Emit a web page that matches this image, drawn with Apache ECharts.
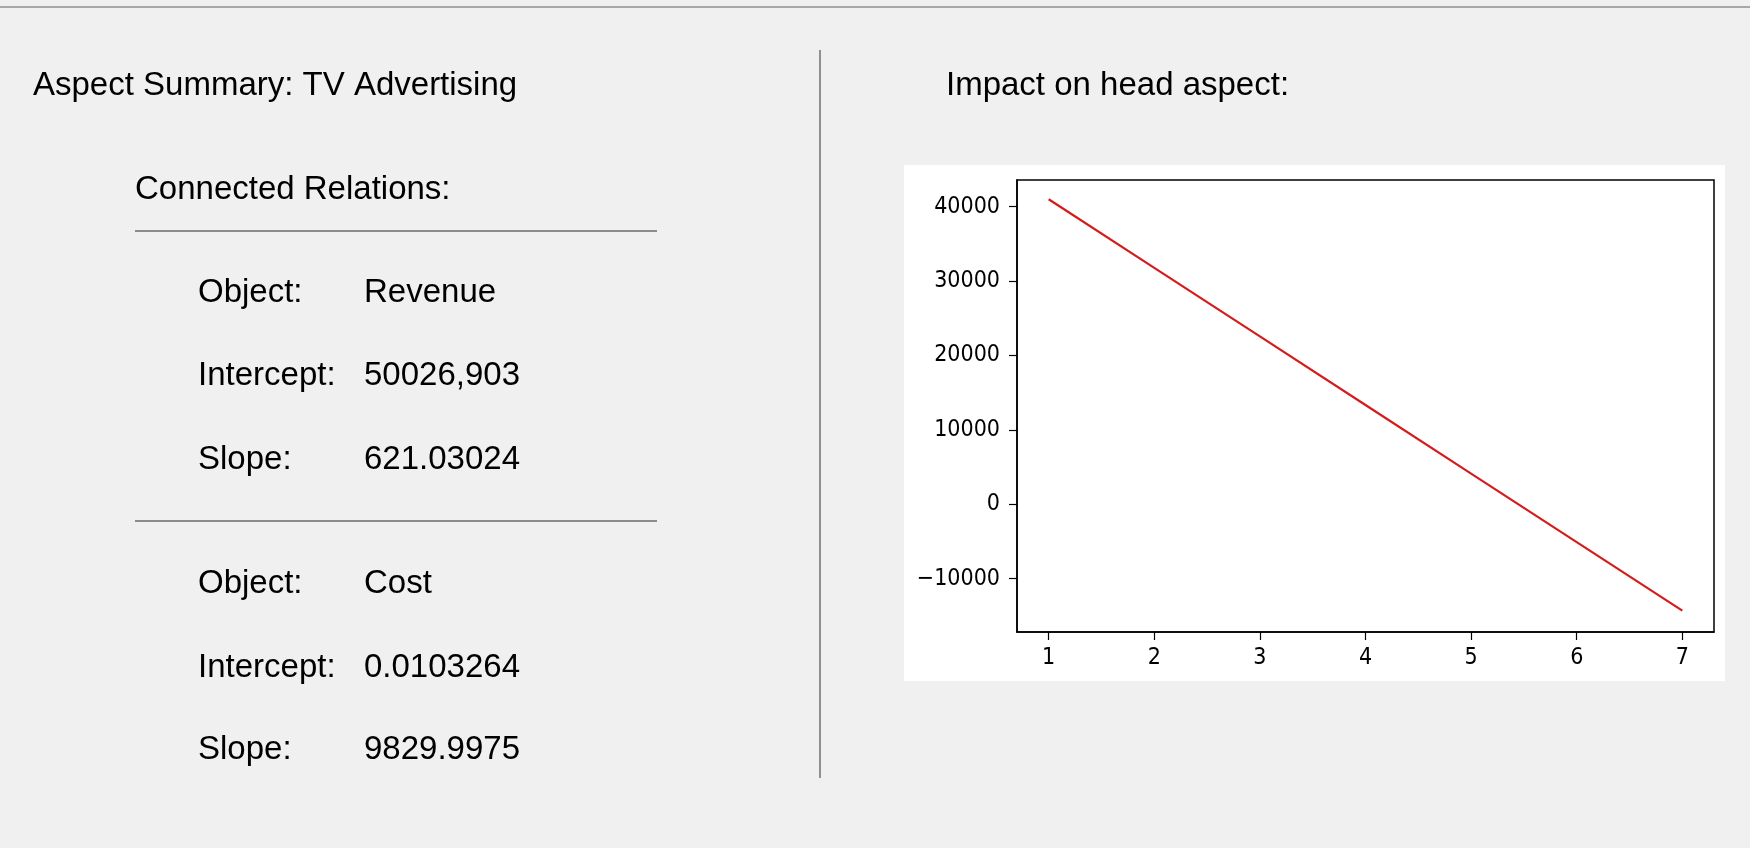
<!DOCTYPE html>
<html>
<head>
<meta charset="utf-8">
<title>Aspect Summary</title>
<script src="https://cdn.jsdelivr.net/npm/echarts@6/dist/echarts.min.js"></script>
<style>
  html, body { margin: 0; padding: 0; background: #f0f0f0; }
  #main { width: 1750px; height: 848px; }
</style>
</head>
<body>
<div id="main"></div>
<script>
// data
var steps = [1, 2, 3, 4, 5, 6, 7];
var impactValues = [41000, 31780, 22560, 13340, 4120, -5100, -14300];
var yTickValues = [-10000, 0, 10000, 20000, 30000, 40000];
var xTickValues = [1, 2, 3, 4, 5, 6, 7];

var summaryTitle = 'Aspect Summary: TV Advertising';
var relationsTitle = 'Connected Relations:';
var chartTitle = 'Impact on head aspect:';
var rowLabels = ['Object:', 'Intercept:', 'Slope:', 'Object:', 'Intercept:', 'Slope:'];
var rowValues = ['Revenue', '50026,903', '621.03024', 'Cost', '0.0103264', '9829.9975'];

var myChart = echarts.init(document.getElementById('main'));

var textFont = '33px "Liberation Sans", Arial, sans-serif';
var rowY = [293, 376, 460, 584, 668, 750];

function txt(text, x, y) {
    return {
        type: 'text',
        z: 10,
        style: {
            text: text, x: x, y: y,
            font: textFont,
            fill: '#000',
            textAlign: 'left',
            textVerticalAlign: 'middle',
            verticalAlign: 'middle'
        }
    };
}
function hline(x1, x2, y, color, w) {
    return {
        type: 'line',
        z: 10,
        shape: { x1: x1, y1: y, x2: x2, y2: y },
        style: { stroke: color, lineWidth: w }
    };
}

var elements = [];
// panel frame
elements.push(hline(0, 1750, 7, '#a8a8a8', 2));
elements.push({
    type: 'line', z: 10,
    shape: { x1: 820, y1: 50, x2: 820, y2: 778 },
    style: { stroke: '#707070', lineWidth: 1.5 }
});
// white area behind the plot
elements.push({
    type: 'rect', z: -1,
    shape: { x: 904, y: 165, width: 821, height: 516 },
    style: { fill: '#ffffff' }
});
elements.push(txt(summaryTitle, 33, 86));
elements.push(txt(relationsTitle, 135, 190));
elements.push(hline(135, 657, 231, '#8c8c8c', 2));
elements.push(hline(135, 657, 521, '#8c8c8c', 2));
for (var i = 0; i < rowLabels.length; i++) {
    elements.push(txt(rowLabels[i], 198, rowY[i]));
    elements.push(txt(rowValues[i], 364, rowY[i]));
}
elements.push(txt(chartTitle, 946, 86));

var tickFont = '"DejaVu Sans Condensed", "DejaVu Sans", sans-serif';

var option = {
    backgroundColor: '#f0f0f0',
    animation: false,
    graphic: { elements: elements },
    grid: {
        left: 1017, top: 180, width: 697, height: 452,
        show: true,
        backgroundColor: '#ffffff',
        borderColor: '#000',
        borderWidth: 1.5
    },
    xAxis: {
        type: 'value',
        min: 0.7,
        max: 7.3,
        splitLine: { show: false },
        axisLine: { show: true, onZero: false, lineStyle: { color: '#000', width: 1.5 } },
        axisTick: { show: true, length: 8, customValues: xTickValues, lineStyle: { color: '#000', width: 1.2 } },
        axisLabel: {
            customValues: xTickValues,
            color: '#000', fontSize: 23, fontFamily: tickFont, margin: 15
        }
    },
    yAxis: {
        type: 'value',
        min: -17180,
        max: 43590,
        splitLine: { show: false },
        axisLine: { show: true, lineStyle: { color: '#000', width: 1.5 } },
        axisTick: { show: true, length: 8, customValues: yTickValues, lineStyle: { color: '#000', width: 1.2 } },
        axisLabel: {
            customValues: yTickValues,
            color: '#000', fontSize: 23, fontFamily: tickFont, margin: 17,
            formatter: function (v) {
                return v < 0 ? '\u2212' + Math.abs(v) : String(v);
            }
        }
    },
    series: [{
        type: 'line',
        data: steps.map(function (s, k) { return [s, impactValues[k]]; }),
        showSymbol: false,
        lineStyle: { color: '#d41c1c', width: 2.2 }
    }]
};
myChart.setOption(option);
</script>
</body>
</html>
